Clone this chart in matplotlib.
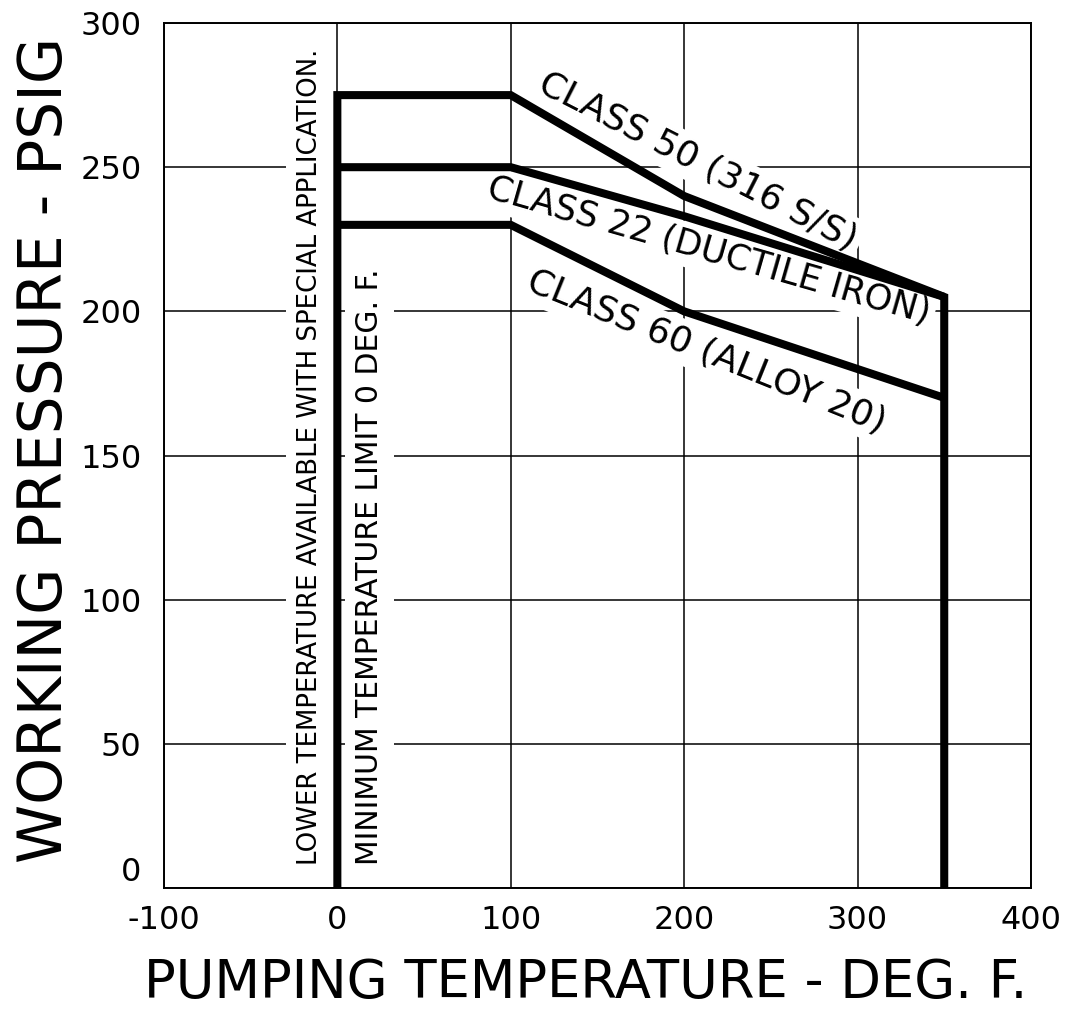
"""
Working pressure vs pumping temperature chart for three pump material classes
"""
import numpy as np
import matplotlib
matplotlib.use('Agg')
import matplotlib.pyplot as plt
plt.rcParams['axes.unicode_minus'] = False

FONT = ['DejaVu Sans']

# Data
temps = [0, 100, 200, 350]
class50 = [275, 275, 240, 205]   # 316 S/S
class22 = [250, 250, 233, 205]   # ductile iron
class60 = [230, 230, 200, 170]   # alloy 20

xticks = [-100, 0, 100, 200, 300, 400]
yticks = [0, 50, 100, 150, 200, 250, 300]

labels = ['CLASS 50 (316 S/S)', 'CLASS 22 (DUCTILE IRON)', 'CLASS 60 (ALLOY 20)']
label_xy = [(208, 252), (214, 221), (213, 186)]
label_rot = [-27, -16, -22]
label_size = [26, 25.3, 26]

note_low = 'LOWER TEMPERATURE AVAILABLE WITH SPECIAL APPLICATION.'
note_min = 'MINIMUM TEMPERATURE LIMIT 0 DEG. F.'

fig = plt.figure(figsize=(10.66, 10.10), dpi=100)
ax = fig.add_axes([0.1538, 0.1208, 0.8133, 0.8564])
ax.set_xlim(-100, 400)
ax.set_ylim(0, 300)

# grid
ax.set_xticks(xticks)
ax.set_yticks(yticks)
ax.grid(True, color='black', lw=1.1)
ax.set_axisbelow(True)
ax.tick_params(length=0)
ax.tick_params(axis='y', pad=16)
ax.tick_params(axis='x', pad=12)
for lab in ax.get_xticklabels() + ax.get_yticklabels():
    lab.set_family(FONT)
    lab.set_fontsize(23)
ax.get_yticklabels()[0].set_va('bottom')   # the 0 sits just above the axis
for sp in ax.spines.values():
    sp.set_linewidth(1.4)

# outline: up at min temp, along class 50, down at max temp
ox = [temps[0]] + temps + [temps[-1]]
oy = [0] + class50 + [0]
kw = dict(color='black', lw=5.8, solid_joinstyle='miter', solid_capstyle='butt', zorder=3)
ax.plot(ox, oy, **kw)
ax.plot(temps, class22, **kw)
ax.plot(temps, class60, **kw)

box = dict(boxstyle='square,pad=0.15', facecolor='white', edgecolor='none')
for txt, (x, y), r, s in zip(labels, label_xy, label_rot, label_size):
    ax.text(x, y, txt, rotation=r, rotation_mode='anchor', ha='center', va='center',
            family=FONT, fontsize=s, bbox=box, zorder=2)

ax.text(-15.6, 8, note_low, rotation=90, ha='center', va='bottom', family=FONT,
        fontsize=18.7, zorder=2,
        bbox=dict(boxstyle='square,pad=0.43', facecolor='white', edgecolor='none'))
ax.text(18.5, 8, note_min, rotation=90, ha='center', va='bottom', family=FONT,
        fontsize=21.5, zorder=2,
        bbox=dict(boxstyle='square,pad=0.33', facecolor='white', edgecolor='none'))

ax.set_xlabel('PUMPING TEMPERATURE - DEG. F.', family=FONT, fontsize=38, va='center')
ax.set_ylabel('WORKING PRESSURE - PSIG', family=FONT, fontsize=43, va='center')
ax.xaxis.set_label_coords(0.487, -0.11)
ax.yaxis.set_label_coords(-0.137, 0.506)

fig.savefig('out.png', dpi=100)
